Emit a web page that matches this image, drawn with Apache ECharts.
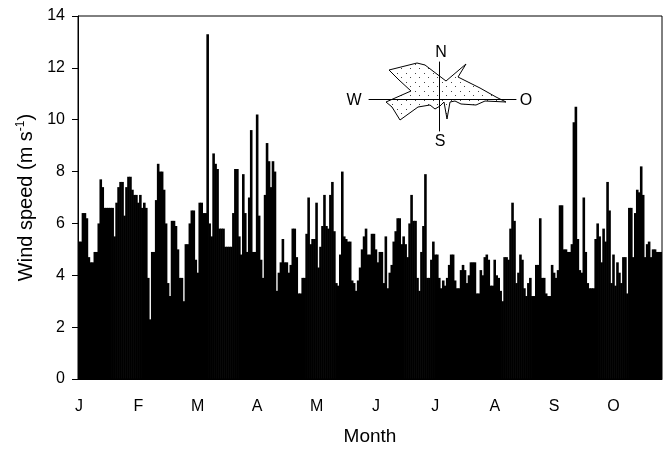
<!DOCTYPE html>
<html>
<head>
<meta charset="utf-8">
<script src="https://cdn.jsdelivr.net/npm/echarts/dist/echarts.min.js"></script>
<style>
  html, body { margin: 0; padding: 0; background: #fff; }
  #chart { width: 666px; height: 449px; }
</style>
</head>
<body>
<div id="chart"></div>
<script>
// month ticks sit every 30 days on the axis
const monthLabels = ['J', 'F', 'M', 'A', 'M', 'J', 'J', 'A', 'S', 'O']
const daysPerTick = 30

// daily mean wind speed (m/s)
const janSpeed = [5.3, 5.3, 6.4, 6.4, 6.2, 4.7, 4.5, 4.5, 4.9, 4.9, 6.0, 7.7, 7.4, 6.6, 6.6, 6.6, 6.6, 6.6, 5.5, 6.8, 7.4, 7.6, 7.6, 6.3, 7.4, 7.8, 7.8, 7.3, 7.1, 7.1]
const febSpeed = [6.8, 7.1, 6.6, 6.8, 6.6, 3.9, 2.3, 4.9, 4.9, 6.9, 8.3, 8.0, 8.0, 7.3, 6.0, 3.7, 3.2, 6.1, 6.1, 5.9, 5.0, 3.9, 3.9, 3.0, 5.2, 5.2, 6.0, 6.5, 6.5, 4.6]
const marSpeed = [4.1, 6.8, 6.8, 6.4, 6.4, 13.3, 6.0, 5.5, 8.7, 8.3, 8.1, 5.8, 5.8, 5.8, 5.1, 5.1, 5.1, 5.1, 6.4, 8.1, 8.1, 5.5, 4.8, 7.9, 6.4, 4.9, 7.0, 9.6, 4.9, 4.9]
const aprSpeed = [10.2, 6.3, 4.6, 3.9, 7.1, 9.1, 8.4, 7.4, 8.4, 8.0, 3.4, 4.1, 4.5, 5.4, 4.5, 4.5, 4.1, 4.4, 5.8, 5.8, 4.7, 3.3, 3.3, 3.9, 3.9, 5.6, 7.0, 5.2, 5.4, 5.4]
const maySpeed = [6.8, 4.3, 5.1, 5.9, 7.1, 5.9, 5.8, 7.1, 7.6, 5.7, 3.7, 3.6, 4.8, 8.0, 5.5, 5.4, 5.3, 5.3, 3.8, 3.7, 3.4, 3.8, 4.3, 5.0, 5.5, 5.8, 4.8, 4.8, 5.6, 5.6]
const junSpeed = [5.0, 4.5, 4.9, 4.9, 3.7, 5.5, 3.5, 4.1, 4.4, 5.3, 5.7, 6.2, 6.2, 5.2, 5.5, 5.2, 4.7, 6.0, 7.1, 6.1, 6.1, 3.9, 3.4, 4.9, 5.9, 7.9, 3.9, 3.9, 4.6, 5.3]
const julSpeed = [4.8, 4.8, 3.9, 3.5, 3.8, 3.6, 3.9, 4.4, 4.8, 4.8, 3.8, 3.5, 3.5, 4.2, 4.4, 4.2, 3.7, 4.0, 4.5, 4.5, 4.5, 3.3, 3.3, 4.2, 4.0, 4.7, 4.8, 4.6, 3.6, 3.6]
const augSpeed = [4.6, 4.0, 3.9, 3.4, 3.0, 4.7, 4.7, 4.6, 5.8, 6.8, 6.1, 3.7, 4.1, 4.8, 4.6, 3.5, 3.2, 3.7, 3.9, 3.2, 3.2, 4.4, 4.4, 6.2, 3.9, 3.9, 3.3, 3.2, 3.2, 4.4]
const sepSpeed = [4.1, 3.9, 4.2, 6.7, 6.7, 5.0, 5.0, 4.9, 4.9, 5.2, 9.9, 10.5, 5.4, 4.2, 4.1, 7.0, 4.9, 3.7, 3.5, 3.5, 3.5, 5.4, 6.0, 5.5, 4.5, 5.8, 5.3, 7.6, 6.5, 3.7]
const octSpeed = [4.8, 3.6, 4.5, 4.1, 3.7, 4.7, 4.7, 3.3, 6.6, 6.6, 4.7, 6.4, 7.3, 7.2, 8.2, 7.1, 4.7, 5.2, 5.3, 4.7, 5.0, 5.0, 4.9, 4.9, 4.9]

// wind rose outline (east / north components)
const roseEast = [-50, -22, -14, 7, 27, 19, 41, 57, 67, 46, 37, 22, 16, 11, 8, 5, 1, -4, -9, -21, -39, -47, -53, -28, -40]
const roseNorth = [29, 36, 34, 18, 35, 22, 11, 2, -3, -2, -6, -5, -2, -3, -20, -3, -7, -10, -6, -8, -21, -8, -3, 8, 19]

const windSpeed = [].concat(janSpeed, febSpeed, marSpeed, aprSpeed, maySpeed,
  junSpeed, julSpeed, augSpeed, sepSpeed, octSpeed)
const days = windSpeed.map((v, i) => String(i + 1))

const font = '"Liberation Sans", Arial, Helvetica, sans-serif'

// dotted fill for the rose
const dots = document.createElement('canvas')
dots.width = 9
dots.height = 9
let dctx = dots.getContext('2d')
dctx.fillStyle = '#444'
dctx.fillRect(1, 1, 1, 1)
dctx.fillRect(5, 5, 1, 1)
const dotPattern = { image: dots, repeat: 'repeat' }

let myChart = echarts.init(document.getElementById('chart'), null, { renderer: 'canvas' })

const roseText = (text, x, y) => ({
  type: 'text', x: x, y: y,
  style: {
    text: text, font: '16px ' + font, fill: '#000',
    align: 'center', verticalAlign: 'middle',
    textAlign: 'center', textVerticalAlign: 'middle'
  }
})

let option = {
  animation: false,
  backgroundColor: '#fff',
  grid: [
    {
      left: 78, right: 4, top: 16, bottom: 70,
      show: true, borderColor: '#000', borderWidth: 1,
      outerBoundsMode: 'none'
    },
    {
      // inset rose
      left: 369, top: 62, width: 147, height: 69,
      outerBoundsMode: 'none'
    }
  ],
  xAxis: [
    {
      type: 'category',
      gridIndex: 0,
      data: days,
      boundaryGap: true,
      axisLine: { lineStyle: { color: '#000', width: 1 } },
      axisTick: {
        interval: (idx) => idx % daysPerTick === 0,
        length: 6,
        lineStyle: { color: '#000' }
      },
      axisLabel: {
        interval: (idx) => idx % daysPerTick === 0,
        formatter: (val) => monthLabels[Math.round((Number(val) - 1) / daysPerTick)],
        color: '#000',
        fontSize: 16,
        fontFamily: font,
        margin: 20
      },
      splitLine: { show: false },
      name: 'Month',
      nameLocation: 'middle',
      nameGap: 48,
      nameTextStyle: { color: '#000', fontSize: 19, fontFamily: font }
    },
    {
      type: 'value',
      gridIndex: 1,
      min: -70, max: 77,
      axisLine: { onZero: true, lineStyle: { color: '#000', width: 1 } },
      axisTick: { show: false },
      axisLabel: { show: false },
      splitLine: { show: false }
    }
  ],
  yAxis: [
    {
      type: 'value',
      gridIndex: 0,
      min: 0, max: 14, interval: 2,
      axisLine: { show: true, lineStyle: { color: '#000', width: 1 } },
      axisTick: { show: true, length: 6, lineStyle: { color: '#000' } },
      axisLabel: { color: '#000', fontSize: 16, fontFamily: font, margin: 13 },
      splitLine: { show: false },
      name: '{a|Wind speed (m s}{b|-1}{a|)}',
      nameLocation: 'middle',
      nameRotate: 90,
      nameGap: 39,
      nameTextStyle: {
        color: '#000',
        fontSize: 20,
        fontFamily: font,
        rich: {
          a: { fontSize: 20, fontFamily: font, color: '#000', lineHeight: 24 },
          b: { fontSize: 12, fontFamily: font, color: '#000', verticalAlign: 'top', lineHeight: 24 }
        }
      }
    },
    {
      type: 'value',
      gridIndex: 1,
      min: -32, max: 37,
      axisLine: { onZero: true, lineStyle: { color: '#000', width: 1 } },
      axisTick: { show: false },
      axisLabel: { show: false },
      splitLine: { show: false }
    }
  ],
  graphic: [
    roseText('N', 441, 53),
    roseText('S', 440, 142),
    roseText('W', 354, 101),
    roseText('O', 526, 101)
  ],
  series: [
    {
      name: 'Wind speed',
      type: 'bar',
      xAxisIndex: 0,
      yAxisIndex: 0,
      data: windSpeed,
      barWidth: 2.6,
      itemStyle: { color: '#000' },
      emphasis: { disabled: true },
      silent: true
    },
    {
      name: 'Rose',
      type: 'custom',
      xAxisIndex: 1,
      yAxisIndex: 1,
      data: roseEast.map((e, k) => [e, roseNorth[k]]),
      clip: false,
      silent: true,
      z: 5,
      renderItem: (params, api) => {
        if (params.dataIndex !== 0) return null
        let pts = roseEast.map((e, k) => api.coord([e, roseNorth[k]]))
        return {
          type: 'polygon',
          shape: { points: pts },
          style: { fill: dotPattern, stroke: '#000', lineWidth: 1 }
        }
      }
    }
  ]
}
myChart.setOption(option)
</script>
</body>
</html>
